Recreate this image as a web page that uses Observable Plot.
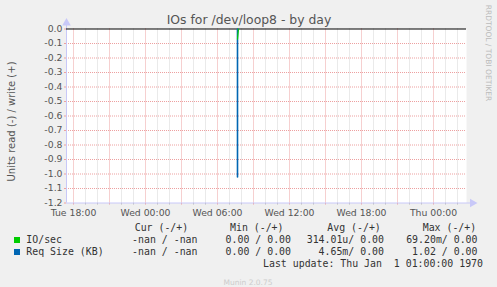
<!DOCTYPE html>
<html>
<head>
<meta charset="utf-8">
<script src="https://cdn.jsdelivr.net/npm/d3@7"></script>
<script src="https://cdn.jsdelivr.net/npm/@observablehq/plot@0.6"></script>
<style>
  html, body { margin: 0; padding: 0; background: #f0f0f0; }
  #chart { position: relative; width: 497px; height: 287px; overflow: hidden; }
</style>
</head>
<body>
<div id="chart"></div>
<script>
// ---- data ----
const title = "IOs for /dev/loop8 - by day";
const yLabel = "Units read (-) / write (+)";
const xStart = "2024-01-02T17:25Z";
const xEnd = "2024-01-04T02:45Z";
const yTickValues = [0, -0.1, -0.2, -0.3, -0.4, -0.5, -0.6, -0.7, -0.8, -0.9, -1.0, -1.1, -1.2];
const yTickLabels = ["0.0", "-0.1", "-0.2", "-0.3", "-0.4", "-0.5", "-0.6", "-0.7", "-0.8", "-0.9", "-1.0", "-1.1", "-1.2"];
const xTickTimes = ["2024-01-02T18:00Z", "2024-01-03T00:00Z", "2024-01-03T06:00Z", "2024-01-03T12:00Z", "2024-01-03T18:00Z", "2024-01-04T00:00Z"];
const xTickLabels = ["Tue 18:00", "Wed 00:00", "Wed 06:00", "Wed 12:00", "Wed 18:00", "Thu 00:00"];
// series (read side drawn negative)
const ioTimes = ["2024-01-03T07:40Z", "2024-01-03T07:45Z"];
const ioRead = [-0.0692, 0];
const reqTimes = ["2024-01-03T07:40Z", "2024-01-03T07:40Z"];
const reqRead = [-1.02, 0];
const seriesNames = ["IO/sec", "Req Size (KB)"];
const seriesColors = ["#00cc00", "#0066b3"];
const legendHeader = ["Cur (-/+)", "Min (-/+)", "Avg (-/+)", "Max (-/+)"];
const legendRows = [
  ["-nan / -nan", "0.00 / 0.00", "314.01u/ 0.00", "69.20m/ 0.00"],
  ["-nan / -nan", "0.00 / 0.00", "4.65m/ 0.00", "1.02 / 0.00"]
];
const lastUpdate = "Last update: Thu Jan  1 01:00:00 1970";
const footer = "Munin 2.0.75";
const sideText = "RRDTOOL / TOBI OETIKER";

// ---- build ----
const start = new Date(xStart), end = new Date(xEnd);
const majors = d3.utcHour.every(3).range(start, end);
const majorSet = new Set(majors.map(d => +d));
const hours = d3.utcHour.range(start, end).filter(d => !majorSet.has(+d));
const ioData = ioTimes.map((t, i) => ({t: new Date(t), v: ioRead[i]}));
const reqData = reqTimes.map((t, i) => ({t: new Date(t), v: reqRead[i]}));
const xFmt = new Map(xTickTimes.map((t, i) => [+new Date(t), xTickLabels[i]]));
const yFmt = new Map(yTickValues.map((v, i) => [v, yTickLabels[i]]));
const yMin = d3.min(yTickValues), yMax = d3.max(yTickValues);

const axisColor = "#c8c8f8";
const red = "#eda0a0";

const plot = Plot.plot({
  width: 497,
  height: 287,
  marginLeft: 66,
  marginRight: 31,
  marginTop: 28.5,
  marginBottom: 84.5,
  style: {background: "#f0f0f0", color: "#555", fontFamily: "DejaVu Sans", fontSize: "9.3px", overflow: "visible"},
  x: {type: "utc", domain: [start, end]},
  y: {type: "linear", domain: [yMin, yMax]},
  marks: [
    Plot.frame({fill: "white", stroke: null}),
    Plot.ruleX(hours, {stroke: "#d4d4d4", strokeDasharray: "1,1"}),
    Plot.ruleX(majors, {stroke: red, strokeDasharray: "1,1"}),
    Plot.ruleY(yTickValues.filter(v => v !== yMax && v !== yMin), {stroke: red, strokeDasharray: "1,1"}),
    Plot.ruleX(hours, {y1: yMin, y2: yMin, insetBottom: -2, stroke: "#bbb"}),
    Plot.ruleX(majors, {y1: yMin, y2: yMin, insetBottom: -2, stroke: red}),
    Plot.ruleX([start], {stroke: axisColor, y1: yMax, y2: yMin, insetTop: -5}),
    Plot.ruleY([yMin], {stroke: axisColor, insetRight: -4}),
    Plot.dot([start], {x: d => d, y: () => yMax, symbol: "triangle", r: 3.2, fill: axisColor, stroke: null, dy: -6}),
    Plot.dot([end], {x: d => d, y: () => yMin, symbol: "triangle", r: 3.2, fill: axisColor, stroke: null, rotate: 90, dx: 6}),
    Plot.axisX({ticks: xTickTimes.map(d => new Date(d)), tickFormat: d => xFmt.get(+d), tickSize: 0, tickPadding: 6, fontSize: "9.3px", label: null}),
    Plot.axisY({ticks: yTickValues, tickFormat: d => yFmt.get(d), tickSize: 2, stroke: red, tickPadding: 2, fontSize: "9.3px", label: null}),
    Plot.ruleY([0], {stroke: "black", strokeWidth: 1}),
    Plot.line(reqData, {x: "t", y: "v", stroke: seriesColors[1], strokeWidth: 1.6}),
    Plot.line(ioData, {x: "t", y: "v", stroke: seriesColors[0], strokeWidth: 1.2})
  ]
});
document.getElementById("chart").appendChild(plot);
plot.style.position = "absolute";
plot.style.left = "0px";
plot.style.top = "0px";

// ---- text overlays ----
const svg = d3.select(plot);
const mono = "DejaVu Sans Mono";
function txt(x, y, s, opts = {}) {
  const t = svg.append("text").attr("x", x).attr("y", y).text(s)
    .attr("font-family", opts.family || mono)
    .attr("font-size", opts.size || "9.9px")
    .attr("fill", opts.fill || "#333")
    .attr("text-anchor", opts.anchor || "start")
    .style("white-space", "pre");
  if (opts.transform) t.attr("transform", opts.transform);
  return t;
}
txt(249, 24, title, {family: "DejaVu Sans", size: "12.4px", fill: "#555", anchor: "middle"});
txt(0, 0, yLabel, {family: "DejaVu Sans", size: "10px", fill: "#555", anchor: "middle", transform: "translate(14.5,121.5) rotate(-90)"});
txt(0, 0, sideText, {family: "DejaVu Sans", size: "7.5px", fill: "#bbb", anchor: "middle", transform: "translate(486,53) rotate(90)"});

// legend header
const headerX = [134.7, 230, 327.3, 422.7];
legendHeader.forEach((h, i) => txt(headerX[i], 231, h));
const colEnd = [197.5, 291, 384, 477.5];
const rowY = [243, 255];
seriesNames.forEach((name, r) => {
  svg.append("rect").attr("x", 14).attr("y", rowY[r] - 6).attr("width", 6).attr("height", 6).attr("fill", seriesColors[r]);
  txt(26.3, rowY[r], name);
  legendRows[r].forEach((v, c) => txt(colEnd[c], rowY[r], v, {anchor: "end"}));
});
txt(483, 267, lastUpdate, {anchor: "end"});
txt(248, 285, footer, {family: "DejaVu Sans", size: "7.5px", fill: "#ccc", anchor: "middle"});
</script>
</body>
</html>
